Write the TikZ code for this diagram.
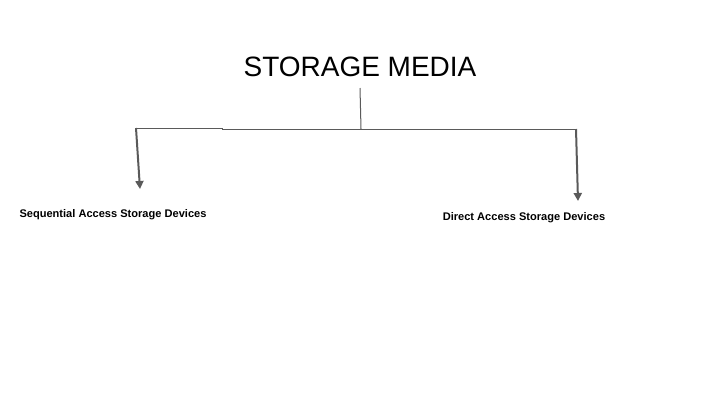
\documentclass[tikz,border=0pt]{standalone}
\usepackage{fontspec}
\setmainfont{Liberation Sans}
\usetikzlibrary{arrows.meta}
\tikzset{every picture/.style={line width=0.75pt}}
\definecolor{linegray}{RGB}{90,90,90}
\tikzset{
  branch/.style={draw=linegray, line width=0.75pt},
  down/.style={draw=linegray, line width=1.5pt, -{Triangle[length=6pt,width=6pt]}},
  leaf/.style={inner sep=0.75pt, font=\fontsize{8.3}{10}\selectfont\bfseries}
}

\begin{document}
\begin{tikzpicture}[x=0.75pt,y=0.75pt,yscale=-1,xscale=1]
\path[use as bounding box] (0,0) rectangle (720,405);

% Text Node
\node (media) at (360,67) [inner sep=0.75pt, font=\fontsize{21}{25}\selectfont] {STORAGE MEDIA};
% Text Node
\node (seq) at (113,215) [leaf] {Sequential Access Storage Devices};
% Text Node
\node (dir) at (524,218) [leaf] {Direct Access Storage Devices};

%Coordinates of the tree
\coordinate (stem top) at (360,88);
\coordinate (stem) at (361,129);
\coordinate (left) at (136,128);
\coordinate (right) at (576,129);
\coordinate (seq tip) at (140,189);
\coordinate (dir tip) at (578,201);

%Straight Lines
\draw [branch] (stem top) -- (stem) ;
\draw [branch] (left) -- (222,128) -- (222,129) -- (right) ;
%Arrows
\draw [down] (left) -- (seq tip) ;
\draw [down] (right) -- (dir tip) ;

\end{tikzpicture}
\end{document}
